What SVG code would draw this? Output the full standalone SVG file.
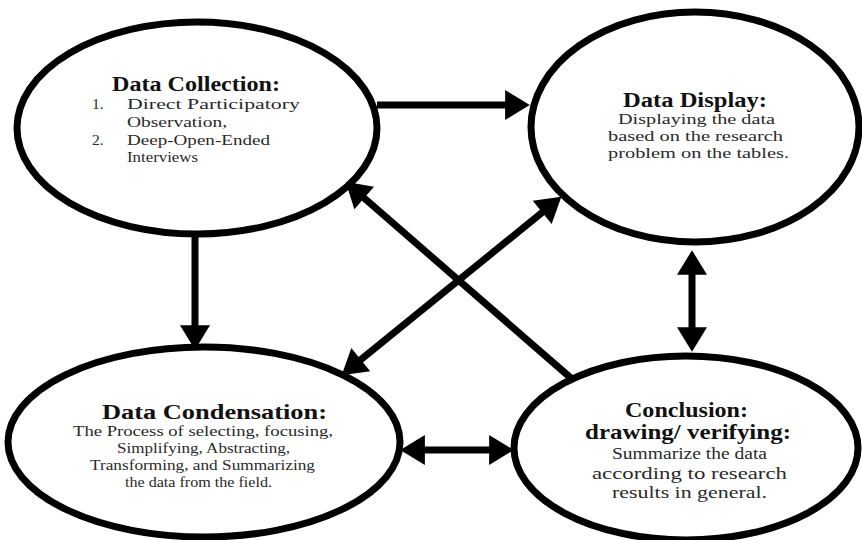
<svg xmlns="http://www.w3.org/2000/svg" width="862" height="540" viewBox="0 0 862 540">
<style>
.node ellipse{fill:#fff;stroke:#000;stroke-width:7}
.t{font-family:"Liberation Serif","Times New Roman",serif;font-weight:bold;font-size:20px;fill:#111}
.b{font-family:"Liberation Serif","Times New Roman",serif;font-size:15.5px;fill:#2a2a2a}
.c{font-size:17px}
.ct{font-size:21px}
#connectors line{stroke:#000;stroke-width:7;fill:none}
</style>
<defs>
<marker id="ah" markerUnits="userSpaceOnUse" markerWidth="30" markerHeight="30" viewBox="0 0 24 28" refX="12" refY="14" orient="auto-start-reverse">
<path d="M0,0 L23,14 L0,28 z" fill="#000"/>
</marker>
</defs>
<rect width="862" height="540" fill="#fff"/>
<g id="collection" class="node">
<ellipse cx="197" cy="128" rx="180" ry="106"/>
<text class="t" x="112" y="91" textLength="168" lengthAdjust="spacingAndGlyphs">Data Collection:</text>
<text class="b" x="92" y="109">1.</text>
<text class="b" x="127" y="109" textLength="173" lengthAdjust="spacingAndGlyphs">Direct Participatory</text>
<text class="b" x="127" y="127" textLength="100" lengthAdjust="spacingAndGlyphs">Observation,</text>
<text class="b" x="92" y="145">2.</text>
<text class="b" x="127" y="145" textLength="143" lengthAdjust="spacingAndGlyphs">Deep-Open-Ended</text>
<text class="b" x="127" y="162" textLength="71" lengthAdjust="spacingAndGlyphs">Interviews</text>
</g>
<g id="display" class="node">
<ellipse cx="695" cy="127" rx="164" ry="115"/>
<text class="t" x="623" y="107" textLength="144" lengthAdjust="spacingAndGlyphs">Data Display:</text>
<text class="b" x="618" y="124" textLength="157" lengthAdjust="spacingAndGlyphs">Displaying the data</text>
<text class="b" x="608" y="141" textLength="175" lengthAdjust="spacingAndGlyphs">based on the research</text>
<text class="b" x="608" y="158" textLength="181" lengthAdjust="spacingAndGlyphs">problem on the tables.</text>
</g>
<g id="condensation" class="node">
<ellipse cx="204" cy="442" rx="196" ry="95"/>
<text class="t" x="102" y="419" textLength="225" lengthAdjust="spacingAndGlyphs">Data Condensation:</text>
<text class="b" x="73" y="436" textLength="260" lengthAdjust="spacingAndGlyphs">The Process of selecting, focusing,</text>
<text class="b" x="117" y="453" textLength="173" lengthAdjust="spacingAndGlyphs">Simplifying, Abstracting,</text>
<text class="b" x="90" y="470" textLength="225" lengthAdjust="spacingAndGlyphs">Transforming, and Summarizing</text>
<text class="b" x="125" y="487" textLength="147" lengthAdjust="spacingAndGlyphs">the data from the field.</text>
</g>
<g id="conclusion" class="node">
<ellipse cx="686" cy="448" rx="172" ry="92"/>
<text class="t ct" x="625" y="417" textLength="123" lengthAdjust="spacingAndGlyphs">Conclusion:</text>
<text class="t ct" x="585" y="439" textLength="206" lengthAdjust="spacingAndGlyphs">drawing/ verifying:</text>
<text class="b c" x="612" y="459" textLength="155" lengthAdjust="spacingAndGlyphs">Summarize the data</text>
<text class="b c" x="592" y="479" textLength="195" lengthAdjust="spacingAndGlyphs">according to research</text>
<text class="b c" x="612" y="498" textLength="155" lengthAdjust="spacingAndGlyphs">results in general.</text>
</g>
<g id="connectors">
<line x1="377" y1="105" x2="518" y2="105" marker-end="url(#ah)"/>
<line x1="195" y1="234" x2="195" y2="338" marker-end="url(#ah)"/>
<line x1="350.8" y1="367.7" x2="552.2" y2="204.3" marker-start="url(#ah)" marker-end="url(#ah)"/>
<line x1="572" y1="379" x2="354.5" y2="189.6" marker-end="url(#ah)"/>
<line x1="692" y1="262" x2="692" y2="340" marker-start="url(#ah)" marker-end="url(#ah)"/>
<line x1="412" y1="450" x2="502" y2="450" marker-start="url(#ah)" marker-end="url(#ah)"/>
</g>
</svg>
